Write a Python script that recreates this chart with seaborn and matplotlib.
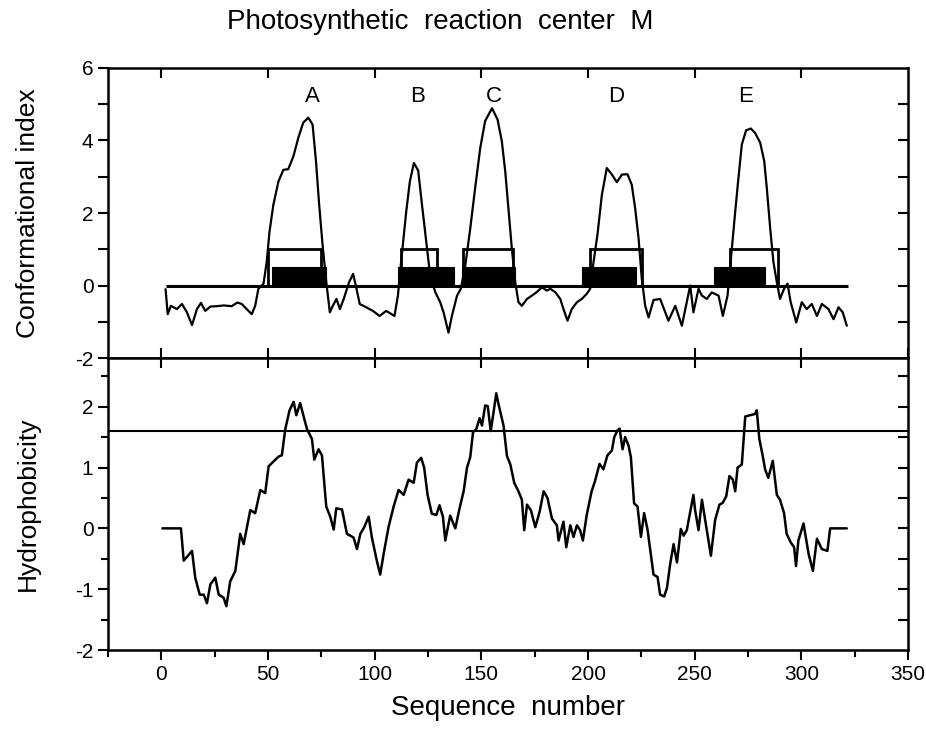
import numpy as np
import pandas as pd
import matplotlib
matplotlib.use("Agg")
import matplotlib.pyplot as plt
import seaborn as sns
from matplotlib.ticker import MultipleLocator

# conformational index profile
conf_seq = [2, 3, 4.5, 7.3, 9.7, 12, 14.4, 16.7, 18.6, 20.6, 23, 26, 29.3, 33, 35.7, 37.7,
            40, 42.4, 44, 45.5, 47.9, 49.4, 50.7, 52.5, 54.9, 57.2, 59.5, 61.9, 64.2, 66.5,
            68.9, 70.9, 72.5, 74, 75.6, 77.5, 79, 80.3, 82.1, 83.7, 85.5, 88, 89.9, 91.5,
            93, 96, 99.2, 102.3, 105.4, 109.3, 110.9, 112.4, 114.8, 116.5, 118.4, 120.4,
            122.2, 124.2, 126, 128.4, 130.7, 132.3, 134.6, 136.2, 138.6, 140.4, 142.5,
            144.8, 147.1, 149.5, 151.8, 155, 157.6, 159.6, 161.2, 162.8, 164.3, 165.9,
            167.4, 169, 171.4, 173.7, 176, 178.4, 180.7, 182.3, 184.6, 187, 188.5, 190.4,
            192.4, 194.8, 197.1, 199.4, 201, 202.6, 204.4, 206.5, 208.8, 211.2, 213.5,
            215.9, 218.5, 220.5, 222.1, 223.7, 225.2, 226.8, 228.4, 230.7, 233.8, 237.7,
            240.9, 244, 246.3, 247.9, 249.4, 251.8, 253.4, 255.7, 258, 261.2, 263.2, 265.4,
            267.4, 269, 270.5, 272.1, 274.1, 276.3, 278.3, 280.7, 282.6, 283.8, 285.4,
            286.9, 288.5, 290, 291.9, 293.5, 295, 297.6, 300.2, 302.5, 304.9, 307.3, 309.6,
            312.7, 315.1, 317.4, 319.4, 321.3]
conf_val = [-0.1, -0.79, -0.56, -0.65, -0.51, -0.74, -1.09, -0.65, -0.48, -0.7, -0.58, -0.57,
            -0.55, -0.57, -0.47, -0.51, -0.65, -0.79, -0.56, -0.09, 0.05, 0.65, 1.48, 2.22,
            2.87, 3.19, 3.21, 3.56, 4.07, 4.49, 4.63, 4.44, 3.43, 2.22, 1.11, 0.0, -0.74,
            -0.57, -0.37, -0.65, -0.37, 0.09, 0.32, -0.09, -0.51, -0.6, -0.7, -0.84, -0.7,
            -0.84, -0.28, 0.65, 2.04, 2.87, 3.38, 3.17, 2.22, 1.2, 0.28, -0.18, -0.46, -0.74,
            -1.3, -0.84, -0.28, -0.09, 0.56, 1.57, 2.69, 3.8, 4.54, 4.89, 4.58, 3.98, 3.15,
            2.04, 1.02, 0.09, -0.46, -0.56, -0.37, -0.28, -0.18, -0.05, -0.14, -0.09, -0.18,
            -0.37, -0.65, -0.97, -0.65, -0.46, -0.37, -0.23, -0.09, 0.65, 1.39, 2.5, 3.24,
            3.06, 2.85, 3.06, 3.07, 2.78, 2.13, 1.3, 0.19, -0.56, -0.88, -0.4, -0.37, -0.97,
            -0.56, -1.11, -0.46, 0.0, -0.74, -0.09, -0.28, -0.37, -0.19, -0.28, -0.84, -0.28,
            1.02, 2.04, 2.96, 3.89, 4.28, 4.33, 4.21, 3.94, 3.43, 2.69, 1.57, 0.65, 0.09,
            -0.37, -0.09, 0.05, -0.46, -1.02, -0.46, -0.65, -0.51, -0.84, -0.51, -0.65, -0.93,
            -0.6, -0.74, -1.11]

# hydrophobicity profile
hyd_seq = [0.5, 9.2, 10.5, 12, 14.4, 15.9, 18, 19.9, 21.4, 23, 25.3, 26.9, 29.2, 30.5, 32.3,
           34.7, 37, 38.6, 41.7, 44, 46.4, 48.7, 50.3, 52.6, 55, 56.5, 58.1, 60.1, 62, 63.3,
           65.1, 67, 68.3, 70.6, 71.7, 73.7, 75.3, 77.3, 79.2, 80.8, 82, 84.7, 87, 90.1, 91.7,
           93.3, 95.1, 97.2, 98.7, 101, 102.6, 104.2, 106.5, 108.9, 111.2, 113.6, 115.9,
           118.3, 119.8, 121.8, 123.2, 124.8, 126.8, 128.9, 130.4, 132, 133.1, 135.4, 137.8,
           139.8, 141.7, 143.3, 144.8, 146.1, 147.6, 149.2, 150.3, 151.8, 153, 154.4, 155.7,
           157, 158, 160.4, 162, 163.6, 165.4, 167.4, 169, 170.1, 171.4, 173.2, 175.3, 177.3,
           179.2, 181, 183.1, 185.4, 186.2, 188.5, 189.8, 191.7, 193.2, 194.8, 196.3, 197.6,
           199.4, 201.7, 203.3, 205.4, 207.2, 209.1, 211.2, 212.3, 213.8, 214.8, 216.2, 217.4,
           219, 220.1, 221.6, 223.2, 224.8, 226.3, 227.9, 230.7, 232.6, 233.8, 235.7, 237,
           238.5, 240.1, 241.7, 243.5, 244.8, 246.3, 247.9, 249.4, 250.2, 251.8, 253.4, 255.4,
           257.6, 259.6, 261.6, 263.2, 264.8, 266.3, 267.9, 269, 270.1, 272.1, 273.7, 276,
           278.3, 279.1, 280.3, 281.9, 283, 284.5, 286.6, 288.5, 290, 291.9, 293.1, 295, 296.6,
           297.5, 298.6, 301, 303.4, 305.4, 307.3, 309.6, 312.2, 313.5, 321.3]
hyd_val = [0, 0, -0.53, -0.47, -0.37, -0.81, -1.09, -1.09, -1.23, -0.92, -0.81, -1.09, -1.14,
           -1.28, -0.87, -0.7, -0.09, -0.26, 0.3, 0.25, 0.63, 0.58, 1.02, 1.1, 1.18, 1.2, 1.63,
           1.94, 2.08, 1.86, 2.06, 1.8, 1.63, 1.47, 1.13, 1.3, 1.2, 0.36, 0.19, -0.02, 0.33,
           0.31, -0.09, -0.15, -0.34, -0.09, 0.02, 0.19, -0.15, -0.53, -0.76, -0.42, 0.02,
           0.36, 0.63, 0.55, 0.8, 0.75, 1.08, 1.16, 1.0, 0.55, 0.24, 0.22, 0.38, 0.19, -0.2,
           0.21, 0.0, 0.33, 0.61, 1.0, 1.17, 1.58, 1.63, 1.81, 1.69, 2.02, 2.01, 1.6, 1.9, 2.22,
           2.05, 1.69, 1.19, 1.05, 0.75, 0.61, 0.47, -0.03, 0.39, 0.3, 0.02, 0.27, 0.61, 0.5,
           0.16, 0.05, -0.2, 0.11, -0.31, 0.05, -0.14, 0.05, -0.03, -0.2, 0.22, 0.61, 0.78,
           1.06, 0.97, 1.2, 1.28, 1.5, 1.61, 1.64, 1.3, 1.5, 1.36, 1.17, 0.41, 0.36, -0.14,
           0.25, -0.02, -0.76, -0.8, -1.09, -1.12, -0.98, -0.59, -0.26, -0.56, -0.01, -0.12,
           -0.03, 0.27, 0.55, 0.3, -0.03, 0.47, 0.03, -0.45, 0.14, 0.39, 0.42, 0.53, 0.86, 0.8,
           0.61, 1.0, 1.05, 1.84, 1.86, 1.88, 1.94, 1.47, 1.19, 0.97, 0.83, 1.11, 0.55, 0.47,
           0.25, -0.09, -0.23, -0.31, -0.62, -0.2, 0.08, -0.42, -0.7, -0.17, -0.34, -0.37, 0.0,
           0.0]

# predicted segments (open boxes) and known helices (black bars)
pred_start = [50, 112.5, 141.5, 201, 266.5]
pred_end = [75, 129, 165, 225.5, 289]
known_start = [52, 111, 141, 197, 259]
known_end = [77, 137, 166, 222.5, 283]
seg_names = ["A", "B", "C", "D", "E"]
name_pos = [71, 120, 156, 213, 274]
seq_first, seq_last = 2, 322
hyd_cut = 1.6

conf_df = pd.DataFrame({"seq": conf_seq, "val": conf_val})
hyd_df = pd.DataFrame({"seq": hyd_seq, "val": hyd_val})

sns.set_style("ticks")
plt.rcParams["font.family"] = ["Liberation Sans", "DejaVu Sans"]
plt.rcParams["axes.unicode_minus"] = False
plt.rcParams["text.color"] = "black"
plt.rcParams["axes.labelcolor"] = "black"
plt.rcParams["xtick.color"] = "black"
plt.rcParams["ytick.color"] = "black"
plt.rcParams["axes.edgecolor"] = "black"

fig = plt.figure(figsize=(9.26, 7.35), dpi=100)
ax1 = fig.add_axes([0.1166, 0.5129, 0.8640, 0.3946])
ax2 = fig.add_axes([0.1166, 0.1156, 0.8640, 0.3973])

# top panel
sns.lineplot(data=conf_df, x="seq", y="val", ax=ax1, color="black", lw=1.6,
             sort=False, estimator=None)
ax1.hlines(0, seq_first, seq_last, color="black", lw=2.2)
ax1.bar(pred_start, 1.0, width=np.array(pred_end) - np.array(pred_start), align="edge",
        fill=False, edgecolor="black", lw=2.0)
ax1.bar(known_start, 0.5, width=np.array(known_end) - np.array(known_start), align="edge",
        color="black", edgecolor="black", lw=0.8)
for name, xp in zip(seg_names, name_pos):
    ax1.text(xp, 5.2, name, ha="center", va="center", fontsize=16)

ax1.set_xlim(-25, 350)
ax1.set_ylim(-2, 6)
ax1.yaxis.set_major_locator(MultipleLocator(2))
ax1.yaxis.set_minor_locator(MultipleLocator(1))
ax1.xaxis.set_major_locator(MultipleLocator(50))
ax1.tick_params(axis="x", labelbottom=False, direction="in", length=7, width=1.5)
ax1.tick_params(axis="y", which="both", direction="out", labelsize=15, width=1.5, length=7)
ax1.set_xlabel("")
ax1.set_ylabel("Conformational index", fontsize=19)
ax1.yaxis.set_label_coords(-0.085, 0.5)
top1 = ax1.secondary_xaxis("top")
top1.set_xticks(np.arange(0, 301, 50))
top1.tick_params(direction="in", length=7, width=1.5, labeltop=False)
right1 = ax1.secondary_yaxis("right")
right1.set_yticks(np.arange(-1, 6, 1))
right1.tick_params(direction="in", length=7, width=1.5, labelright=False)

# bottom panel
sns.lineplot(data=hyd_df, x="seq", y="val", ax=ax2, color="black", lw=1.8,
             sort=False, estimator=None)
ax2.axhline(hyd_cut, color="black", lw=1.5)
ax2.set_xlim(-25, 350)
ax2.set_ylim(-2, 2.8)
ax2.xaxis.set_major_locator(MultipleLocator(50))
ax2.xaxis.set_minor_locator(MultipleLocator(25))
ax2.yaxis.set_major_locator(MultipleLocator(1))
ax2.yaxis.set_minor_locator(MultipleLocator(0.5))
ax2.tick_params(which="both", direction="out", labelsize=15, width=1.5)
ax2.tick_params(which="major", length=7)
ax2.tick_params(which="minor", length=5)
ax2.set_xlabel("Sequence  number", fontsize=20, labelpad=8)
ax2.set_ylabel("Hydrophobicity", fontsize=19)
ax2.yaxis.set_label_coords(-0.085, 0.5)
top2 = ax2.secondary_xaxis("top")
top2.set_xticks(np.arange(0, 301, 50))
top2.tick_params(direction="in", length=7, width=1.5, labeltop=False)
right2 = ax2.secondary_yaxis("right")
right2.set_yticks(np.arange(-1.5, 2.6, 0.5))
right2.tick_params(direction="in", length=7, width=1.5, labelright=False)

for ax in (ax1, ax2):
    for sp in ax.spines.values():
        sp.set_linewidth(1.8)
        sp.set_visible(True)
for sec in (top1, right1, top2, right2):
    for sp in sec.spines.values():
        sp.set_visible(False)

fig.text(0.475, 0.97, "Photosynthetic  reaction  center  M", ha="center", va="center",
         fontsize=20)

fig.savefig("out.png", dpi=100)
